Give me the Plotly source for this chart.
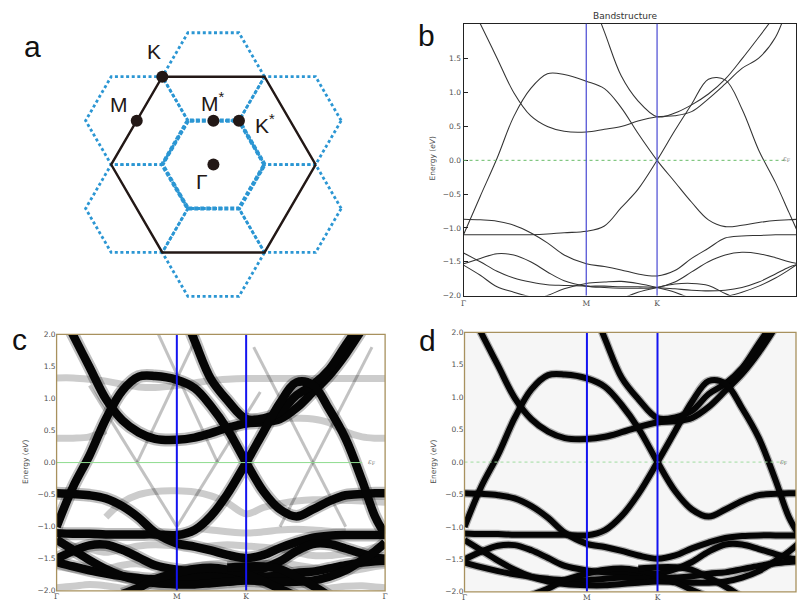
import math
import plotly.graph_objects as go

N = None
S3 = math.sqrt(3.0)

# ---------------- data ----------------
# k-path sample positions (fraction of the Γ-M-K-Γ path length)
k_grid = [0.0, 0.05, 0.10, 0.15, 0.20, 0.25, 0.30, 0.366, 0.42, 0.47, 0.52,
          0.577, 0.63, 0.68, 0.73, 0.78, 0.83, 0.88, 0.93, 0.97, 1.0]
k_tick_vals = [0.0, 0.366, 0.577, 1.0]
k_tick_text = ["Γ", "M", "K", "Γ"]
e_ticks_b = [-2.0, -1.5, -1.0, -0.5, 0.0, 0.5, 1.0, 1.5]
e_ticks_cd = [-2.0, -1.5, -1.0, -0.5, 0.0, 0.5, 1.0, 1.5, 2.0]

# panel b: supercell band structure (eV)
b_band1 = [2.52, 2.02, 1.51, 1.0, 0.66, 0.50, 0.43, 0.42, 0.46, 0.50, 0.58, 0.645, 0.66, 0.72, 0.91, 1.13, 1.36, 1.51, 1.82, 2.3, 2.6]
b_band2 = [N, N, N, N, N, N, N, 2.6, 1.9, 1.25, 0.88, 0.645, 0.70, 0.82, 0.98, 1.20, 1.50, 1.82, 2.15, N, N]
b_band3 = [-1.10, -0.53, 0.03, 0.65, 1.06, 1.28, 1.27, 1.17, 1.06, 0.78, 0.40, 0.0, -0.32, -0.62, -0.88, -0.98, -0.96, -0.92, -0.89, -0.88, -0.87]
b_band4 = [-1.10, -1.10, -1.10, -1.10, -1.10, -1.09, -1.07, -1.05, -0.97, -0.70, -0.43, 0.0, 0.44, 0.83, 1.20, 1.19, 0.76, 0.15, -0.33, -0.77, -1.10]
b_band5 = [-0.87, -0.88, -0.90, -0.96, -1.07, -1.22, -1.40, -1.53, -1.57, -1.62, -1.68, -1.71, -1.63, -1.45, -1.30, -1.15, -1.12, -1.11, -1.10, -1.10, -1.10]
b_band6 = [-1.53, -1.45, -1.38, -1.40, -1.50, -1.65, -1.78, -1.86, -1.88, -1.89, -1.89, -1.88, -1.80, -1.65, -1.50, -1.40, -1.36, -1.38, -1.44, -1.50, -1.53]
b_band7 = [-1.37, -1.50, -1.64, -1.74, -1.80, -1.84, -1.85, -1.86, -1.86, -1.87, -1.87, -1.88, -1.90, -1.92, -1.93, -1.92, -1.88, -1.80, -1.68, -1.58, -1.53]
b_band8 = [-1.55, -1.70, -1.87, -1.95, -2.02, -2.08, N, N, N, N, N, N, N, N, N, N, N, N, N, N, N]
b_band9 = [N, N, N, N, -2.08, -2.0, -1.90, -1.82, -1.80, -1.79, -1.82, -1.88, -1.95, -2.05, N, N, N, N, N, N, N]
b_band10 = [N, N, N, N, N, N, N, N, N, -2.05, -1.95, -1.88, -1.83, -1.82, -1.85, -1.97, -2.08, N, N, N, N]
b_band11 = [N, N, N, N, N, N, N, N, N, N, N, N, N, N, N, -2.02, -1.95, -1.86, -1.74, -1.62, -1.52]

# panels c and d: unfolded band structure (main bands, eV)
d_band1 = [2.5, 1.99, 1.49, 0.99, 0.66, 0.47, 0.37, 0.355, 0.39, 0.46, 0.54, 0.61, 0.63, 0.68, 0.85, 1.10, 1.36, 1.69, 2.08, 2.4, 2.6]
d_band2 = [N, N, N, N, N, N, N, 2.6, 1.9, 1.3, 0.97, 0.68, 0.69, 0.79, 1.05, 1.21, 1.45, 1.83, 2.2, N, N]
d_band3 = [-1.0, -0.38, 0.11, 0.68, 1.12, 1.34, 1.35, 1.29, 1.16, 0.88, 0.52, 0.0, -0.45, -0.73, -0.84, -0.73, -0.60, -0.51, -0.49, -0.48, -0.48]
d_band4 = [-1.10, -1.11, -1.11, -1.12, -1.12, -1.12, -1.12, -1.13, -1.05, -0.83, -0.49, 0.0, 0.48, 0.93, 1.25, 1.21, 0.83, 0.37, -0.28, -0.85, -1.12]
d_band5 = [-0.48, -0.49, -0.51, -0.56, -0.68, -0.86, -1.09, -1.26, -1.31, -1.37, -1.44, -1.49, -1.44, -1.33, -1.24, -1.17, -1.14, -1.13, -1.13, -1.13, -1.13]
d_band6 = [-1.50, -1.38, -1.29, -1.28, -1.36, -1.48, -1.60, -1.67, -1.70, -1.71, -1.72, -1.72, -1.65, -1.54, -1.38, -1.27, -1.27, -1.34, -1.42, -1.48, -1.50]
d_band7 = [-1.55, -1.62, -1.68, -1.73, -1.77, -1.80, -1.82, -1.82, -1.80, -1.78, -1.80, -1.80, -1.78, -1.76, -1.72, -1.70, -1.65, -1.60, -1.56, -1.54, -1.53]
d_band8 = [-1.2, -1.36, -1.52, -1.66, -1.77, -1.84, -1.88, -1.90, -1.90, -1.88, -1.86, -1.84, -1.85, -1.86, -1.86, -1.84, -1.78, -1.68, -1.52, -1.38, -1.25]
d_band9 = [N, N, N, N, -2.05, -1.95, -1.82, -1.72, -1.66, -1.64, -1.67, -1.74, -1.85, -1.97, -2.08, N, N, N, N, N, N]
d_band10 = [N, N, N, N, N, N, N, N, N, N, -1.64, -1.62, -1.62, -1.66, -1.78, -1.92, -2.08, N, N, N, N]

# panel c: weak (ghost) folded bands
c_ghost1 = [1.32, 1.32, 1.30, 1.27, 1.22, 1.18, 1.17, 1.20, 1.24, 1.28, 1.30, 1.31, 1.31, 1.31, 1.31, 1.31, 1.31, 1.31, 1.31, 1.31, 1.31]
c_ghost2 = [0.38, 0.38, 0.40, 0.50, N, N, N, N, N, N, N, 0.72, 0.70, 0.69, 0.69, 0.68, 0.62, 0.48, 0.40, 0.38, 0.38]
c_ghost3 = [N, N, N, -0.85, -0.62, -0.50, -0.45, -0.44, -0.46, -0.52, -0.63, -0.80, -0.70, -0.64, -0.60, -0.58, -0.58, -0.59, -0.60, -0.61, -0.62]
c_ghost4 = [-1.25, -1.30, -1.35, -1.40, -1.35, -1.30, -1.28, -1.30, -1.32, -1.30, -1.28, -1.30, -1.32, -1.35, -1.40, -1.45, -1.45, -1.42, -1.38, -1.32, -1.28]
c_ghost5 = [-1.95, -1.93, -1.90, -1.92, -1.96, -1.98, -1.97, -1.95, -1.94, -1.95, -1.97, -1.96, -1.94, -1.93, -1.95, -1.97, -1.96, -1.93, -1.92, -1.94, -1.95]
c_ghost6 = [N, N, N, N, N, N, N, N, -1.02, -1.05, -1.08, -1.10, -1.08, -1.05, -1.04, -1.05, -1.07, -1.08, N, N, N]
c_ghost7 = [-1.62, -1.66, -1.70, -1.66, -1.60, -1.58, -1.62, -1.66, -1.62, -1.58, -1.57, -1.60, -1.58, -1.56, -1.60, -1.64, -1.68, -1.70, -1.66, -1.62, -1.60]
c_cone1_k = [0.10, 0.366]
c_cone1_e = [1.2, -1.0]
c_cone2_k = [0.366, 0.62]
c_cone2_e = [-1.0, 1.1]
c_cone3_k = [0.68, 0.96]
c_cone3_e = [-1.0, 1.8]
c_cone4_k = [0.60, 0.88]
c_cone4_e = [1.8, -1.0]
c_cone5_k = [0.245, 0.43]
c_cone5_e = [0.0, 2.0]
c_cone6_k = [0.49, 0.31]
c_cone6_e = [0.0, 2.0]

# panel a: Brillouin zone (units of the 1x1 zone radius)
bz_point_names = ["K", "M", "M*", "K*", "Γ"]
bz_point_x = [-0.5, -0.75, 0.0, 0.25, 0.0]
bz_point_y = [S3 / 2, S3 / 4, S3 / 4, S3 / 4, 0.0]
bz_radius = 1.0
sc_radius = 0.5  # 2x2 supercell zone
sc_b1 = (0.75, S3 / 4)
sc_b2 = (0.0, S3 / 2)

bands_b = [b_band1, b_band2, b_band3, b_band4, b_band5, b_band6, b_band7,
           b_band8, b_band9, b_band10, b_band11]
bands_cd = [d_band1, d_band2, d_band3, d_band4, d_band5, d_band6, d_band7,
            d_band8, d_band9, d_band10]
ghost_bands_c = [c_ghost1, c_ghost2, c_ghost3, c_ghost4, c_ghost5, c_ghost6, c_ghost7]
ghost_lines_c = [(c_cone1_k, c_cone1_e), (c_cone2_k, c_cone2_e), (c_cone3_k, c_cone3_e),
                 (c_cone4_k, c_cone4_e), (c_cone5_k, c_cone5_e), (c_cone6_k, c_cone6_e)]

# ---------------- figure ----------------
W, H = 799, 605
DARK = "#231816"
BLUE_DOT = "#2b96d3"
FRAME = "#a8915e"
TICKC = "#505050"


def px(x):
    return x / W


def py(y):
    return 1 - y / H


fig = go.Figure()


def add(trace):
    trace.update(hoverinfo="skip", showlegend=False)
    fig.add_trace(trace)


def hexagon(cx, cy, r):
    ang = [math.radians(a) for a in range(0, 361, 60)]
    return [cx + r * math.cos(a) for a in ang], [cy + r * math.sin(a) for a in ang]


# ---- panel a ----
neigh = [(sc_b1[0], sc_b1[1]), (-sc_b1[0], -sc_b1[1]), (sc_b2[0], sc_b2[1]),
         (-sc_b2[0], -sc_b2[1]), (sc_b1[0] - sc_b2[0], sc_b1[1] - sc_b2[1]),
         (sc_b2[0] - sc_b1[0], sc_b2[1] - sc_b1[1])]
for cx, cy in neigh:
    hx, hy = hexagon(cx, cy, sc_radius)
    add(go.Scatter(x=hx, y=hy, mode="lines", xaxis="x", yaxis="y",
                   line=dict(color=BLUE_DOT, width=2.8, dash="3px,2.6px")))
hx, hy = hexagon(0, 0, bz_radius)
add(go.Scatter(x=hx, y=hy, mode="lines", xaxis="x", yaxis="y",
               line=dict(color=DARK, width=2.4)))
hx, hy = hexagon(0, 0, sc_radius)
add(go.Scatter(x=hx, y=hy, mode="lines", xaxis="x", yaxis="y",
               line=dict(color=BLUE_DOT, width=4.2, dash="4px,2px")))
add(go.Scatter(x=bz_point_x, y=bz_point_y, mode="markers", xaxis="x", yaxis="y",
               marker=dict(size=12, color=DARK)))

label_offsets = {"K": (-0.08, 0.25), "M": (-0.17, 0.16), "M*": (0.0, 0.18),
                 "K*": (0.25, -0.035), "Γ": (-0.115, -0.165)}
annotations = []
for name, x0, y0 in zip(bz_point_names, bz_point_x, bz_point_y):
    dx, dy = label_offsets[name]
    txt = name.replace("*", "<sup>*</sup>")
    annotations.append(dict(x=x0 + dx, y=y0 + dy, xref="x", yref="y", text=txt,
                            xanchor="center", yanchor="middle",
                            showarrow=False, font=dict(size=21, color=DARK,
                                                       family="Liberation Sans, Arial, sans-serif")))

# ---- panel b ----
for band in bands_b:
    add(go.Scatter(x=k_grid, y=band, mode="lines", xaxis="x2", yaxis="y2",
                   line=dict(color="#333333", width=1.05, shape="spline", smoothing=1.0)))

# ---- panel c ----
for band in ghost_bands_c:
    add(go.Scatter(x=k_grid, y=band, mode="lines", xaxis="x3", yaxis="y3",
                   line=dict(color="rgba(0,0,0,0.2)", width=7, shape="spline")))
for kk, ee in ghost_lines_c:
    add(go.Scatter(x=kk, y=ee, mode="lines", xaxis="x3", yaxis="y3",
                   line=dict(color="rgba(0,0,0,0.24)", width=3)))
for band in bands_cd:
    add(go.Scatter(x=k_grid, y=band, mode="lines", xaxis="x3", yaxis="y3",
                   line=dict(color="rgba(0,0,0,0.25)", width=13, shape="spline")))
for band in bands_cd:
    add(go.Scatter(x=k_grid, y=band, mode="lines", xaxis="x3", yaxis="y3",
                   line=dict(color="#050505", width=8.5, shape="spline")))

# ---- panel d ----
for band in bands_cd:
    add(go.Scatter(x=k_grid, y=band, mode="lines", xaxis="x4", yaxis="y4",
                   line=dict(color="rgba(0,0,0,0.3)", width=8.5, shape="spline")))
for band in bands_cd:
    add(go.Scatter(x=k_grid, y=band, mode="lines", xaxis="x4", yaxis="y4",
                   line=dict(color="#050505", width=6, shape="spline")))

# ---------------- axes ----------------
tick_font = dict(size=7.5, color=TICKC, family="DejaVu Sans, sans-serif")
k_font = dict(size=7.5, color=TICKC, family="DejaVu Serif, serif")


def fmt(v):
    s = "%.1f" % v
    return s.replace("-", "\u2212")


a_x0, a_y0, a_scale = 212.0, 163.0, 103.0
fig.update_layout(
    width=W, height=H, margin=dict(l=0, r=0, t=0, b=0),
    paper_bgcolor="white", plot_bgcolor="white",
    xaxis=dict(domain=[0, px(400)], range=[-a_x0 / a_scale, (400 - a_x0) / a_scale],
               visible=False, fixedrange=True),
    yaxis=dict(domain=[py(300), 1], range=[(a_y0 - 300) / a_scale, a_y0 / a_scale],
               visible=False, fixedrange=True),
    xaxis2=dict(domain=[px(464), 1], range=[0, (W - 464) / 338.0], tickvals=k_tick_vals,
                ticktext=k_tick_text, tickfont=k_font, showgrid=False, zeroline=False,
                showline=True, linecolor="#222", linewidth=1, mirror=True, ticks="",
                anchor="y2"),
    yaxis2=dict(domain=[py(296), py(20)], range=[-2.0, 2.02], tickvals=e_ticks_b,
                ticktext=[fmt(v) for v in e_ticks_b], tickfont=tick_font, showgrid=False,
                zeroline=False, showline=True, linecolor="#222", linewidth=1, mirror=True,
                ticks="inside", ticklen=4, tickcolor="#222", anchor="x2"),
    xaxis3=dict(domain=[px(54), px(385)], range=[0, 1], tickvals=k_tick_vals,
                ticktext=k_tick_text, tickfont=k_font, showgrid=False, zeroline=False,
                showline=False, ticks="", anchor="y3"),
    yaxis3=dict(domain=[py(595.7), py(335.3)], range=[-2.0, 2.0], tickvals=e_ticks_cd,
                ticktext=[fmt(v) for v in e_ticks_cd], tickfont=tick_font, showgrid=False,
                zeroline=False, showline=False, ticks="", anchor="x3"),
    xaxis4=dict(domain=[px(465), 1], range=[0, (W - 465) / 337.0], tickvals=k_tick_vals,
                ticktext=k_tick_text, tickfont=k_font, showgrid=False, zeroline=False,
                showline=False, ticks="", anchor="y4"),
    yaxis4=dict(domain=[py(596.7), py(333.3)], range=[-2.0, 2.0], tickvals=e_ticks_cd,
                ticktext=[fmt(v) for v in e_ticks_cd], tickfont=tick_font, showgrid=False,
                zeroline=False, showline=False, ticks="", anchor="x4"),
)

shapes = []
# panel d background
shapes.append(dict(type="rect", xref="x4 domain", yref="y4 domain", x0=0, x1=1, y0=0, y1=1,
                   fillcolor="#f6f6f6", line=dict(width=0), layer="below"))
# Fermi levels
shapes.append(dict(type="line", xref="x2 domain", yref="y2", x0=0, x1=0.97, y0=0, y1=0,
                   line=dict(color="#66bb66", width=1, dash="dot")))
shapes.append(dict(type="line", xref="x3 domain", yref="y3", x0=0, x1=0.93, y0=0, y1=0,
                   line=dict(color="#8fdc8f", width=1)))
shapes.append(dict(type="line", xref="x4 domain", yref="y4", x0=0, x1=0.97, y0=0, y1=0,
                   line=dict(color="#9fdc9f", width=1, dash="dot")))
# high-symmetry verticals
for kv in k_tick_vals[1:3]:
    shapes.append(dict(type="line", xref="x2", yref="y2 domain", x0=kv, x1=kv, y0=0, y1=1,
                       line=dict(color="rgba(70,70,210,0.85)", width=1.4)))
    shapes.append(dict(type="line", xref="x3", yref="y3 domain", x0=kv, x1=kv, y0=0, y1=1,
                       line=dict(color="#1414f0", width=2)))
    shapes.append(dict(type="line", xref="x4", yref="y4 domain", x0=kv, x1=kv, y0=0, y1=1,
                       line=dict(color="#1414f0", width=2)))
# frames c, d
for ax in ("3", "4"):
    shapes.append(dict(type="rect", xref="x%s domain" % ax, yref="y%s domain" % ax,
                       x0=0, x1=1, y0=0, y1=1, line=dict(color=FRAME, width=1.3),
                       fillcolor="rgba(0,0,0,0)", layer="above"))
fig.update_layout(shapes=shapes)

letter_font = dict(size=30, color="#111", family="Liberation Sans, Arial, sans-serif")
for t, x, y in (("a", 30, 43), ("b", 427, 32), ("c", 17, 341), ("d", 428, 342)):
    annotations.append(dict(x=px(x), y=py(y), xref="paper", yref="paper", text=t,
                            xanchor="center", yanchor="middle",
                            showarrow=False, font=letter_font))
annotations.append(dict(x=px(627), y=py(12), xref="paper", yref="paper", text="Bandstructure",
                        xanchor="center", yanchor="middle",
                        showarrow=False, font=dict(size=9, color="#333",
                                                   family="DejaVu Sans, sans-serif")))
for x, y in ((433, 157), (22, 465), (433, 465)):
    annotations.append(dict(x=px(x), y=py(y), xref="paper", yref="paper",
                            xanchor="center", yanchor="middle",
                            text="Energy (<i>eV</i>)", textangle=-90, showarrow=False,
                            font=dict(size=7.5, color=TICKC, family="DejaVu Sans, sans-serif")))
for x, y in ((790, 157), (372, 465), (787, 465)):
    annotations.append(dict(x=px(x), y=py(y), xref="paper", yref="paper",
                            xanchor="center", yanchor="middle",
                            text="<i>ε</i><sub>F</sub>", showarrow=False,
                            font=dict(size=7, color="#777", family="DejaVu Serif, serif")))
fig.update_layout(annotations=annotations)

fig.write_html("out.html", config={"displayModeBar": False},
               post_script="document.body.style.margin='0';")
